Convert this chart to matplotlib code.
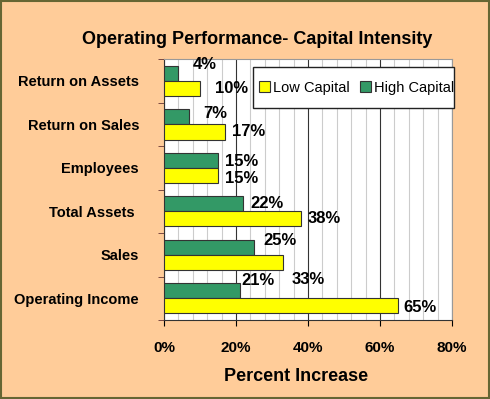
import matplotlib.pyplot as plt
import numpy as np
from matplotlib.ticker import MultipleLocator, FuncFormatter

plt.rcParams['font.family'] = ['Liberation Sans', 'DejaVu Sans']

categories = ['Return on Assets', 'Return on Sales', 'Employees',
              'Total Assets ', 'Sales', 'Operating Income']
high_capital = [4, 7, 15, 22, 25, 21]
low_capital = [10, 17, 15, 38, 33, 65]

# label offsets in points (dx from bar end, dy up from bar centre), Excel-style placement
high_off = [(10, 6.5), (10, 2.5), (5, -1), (5, 0), (7, 5), (1, 7)]
low_off = [(11, 0), (5, 0), (5, -2), (5, 0), (6, -12.5), (4, -1)]

bg = '#FFCC99'
green = '#339966'
yellow = '#FFFF00'

fig = plt.figure(figsize=(4.9, 3.99), dpi=100, facecolor=bg)
fig.patches.append(plt.Rectangle((0.002, 0.003), 0.996, 0.994, transform=fig.transFigure,
                                 fill=False, edgecolor='#666633', linewidth=1.5))
ax = fig.add_axes([0.3347, 0.198, 0.5878, 0.654])
ax.set_facecolor('white')

n = len(categories)
y = np.arange(n)
h = 0.35
bh = ax.barh(y - h / 2, high_capital, height=h, color=green, edgecolor='#333333',
             linewidth=0.8, label='High Capital', zorder=3)
bl = ax.barh(y + h / 2, low_capital, height=h, color=yellow, edgecolor='#333333',
             linewidth=0.8, label='Low Capital', zorder=3)

for i in range(n):
    ax.annotate('%d%%' % high_capital[i], (high_capital[i], y[i] - h / 2),
                xytext=high_off[i], textcoords='offset points', ha='left', va='center',
                fontsize=12, fontweight='bold', zorder=6)
    ax.annotate('%d%%' % low_capital[i], (low_capital[i], y[i] + h / 2),
                xytext=low_off[i], textcoords='offset points', ha='left', va='center',
                fontsize=12, fontweight='bold', zorder=6)

ax.set_xlim(0, 80)
ax.set_ylim(n - 0.5, -0.5)
ax.xaxis.set_major_locator(MultipleLocator(20))
ax.xaxis.set_minor_locator(MultipleLocator(4))
ax.xaxis.set_major_formatter(FuncFormatter(lambda v, p: '%d%%' % v))
ax.grid(axis='x', which='major', color='#333333', linewidth=0.8, zorder=1)
ax.grid(axis='x', which='minor', color='#CCCCCC', linewidth=0.8, zorder=0)

ax.set_yticks(y)
ax.set_yticklabels(categories, fontsize=10.5, fontweight='bold')
ax.set_yticks(np.arange(n + 1) - 0.5, minor=True)
ax.tick_params(axis='y', which='major', length=0, pad=18)
ax.tick_params(axis='y', which='minor', length=4, direction='out', color='#663333')
ax.tick_params(axis='x', which='major', length=4, direction='out', labelsize=11, pad=11)
ax.tick_params(axis='x', which='minor', length=0)
for lab in ax.get_xticklabels():
    lab.set_fontweight('bold')

ax.spines['left'].set_color('#333333')
ax.spines['bottom'].set_color('#333333')
ax.spines['top'].set_color('#999999')
ax.spines['right'].set_color('#999999')

ax.set_xlabel('Percent Increase', fontsize=13, fontweight='bold')
ax.xaxis.set_label_coords(0.46, -0.185)
fig.text(0.525, 0.9, 'Operating Performance- Capital Intensity', ha='center',
         va='center', fontsize=13, fontweight='bold')

# legend box drawn separately so its padding can match the original
ax.add_patch(plt.Rectangle((0.309, 0.812), 0.698, 0.157, transform=ax.transAxes,
                           facecolor='white', edgecolor='#222222', linewidth=1.0,
                           clip_on=False, zorder=5))
leg = ax.legend([bl, bh], ['Low Capital', 'High Capital'], loc='center',
                bbox_to_anchor=(0.668, 0.89), ncol=2, fontsize=10.5, frameon=False,
                handlelength=0.75, handleheight=0.75, handletextpad=0.2,
                columnspacing=0.7, borderpad=0, borderaxespad=0)
leg.set_zorder(6)

fig.savefig('out.png', dpi=100, facecolor=bg)
